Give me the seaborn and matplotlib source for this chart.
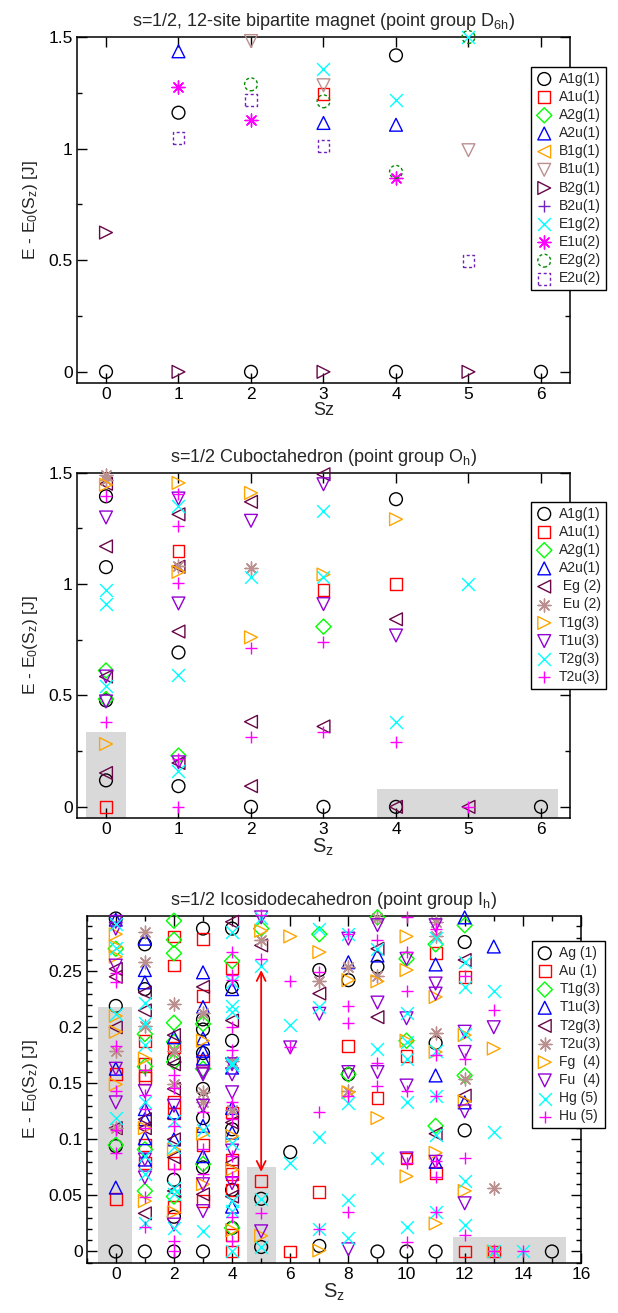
import numpy as np
import pandas as pd
import matplotlib
matplotlib.use("Agg")
import matplotlib.pyplot as plt
import seaborn as sns
from matplotlib.ticker import MultipleLocator, FuncFormatter
from matplotlib.patches import Rectangle

# ---------------- data: panel 1 (12-site bipartite, D6h) ----------------
top_A1g = {0: [0.0], 1: [1.161], 2: [0.0], 4: [0.0, 1.418], 6: [0.0]}
top_A1u = {3: [1.243]}
top_A2g = {}
top_A2u = {1: [1.436], 3: [1.115], 4: [1.107]}
top_B1g = {}
top_B1u = {2: [1.482], 3: [1.284], 5: [0.993]}
top_B2g = {0: [0.624], 1: [0.0], 3: [0.0], 5: [0.0]}
top_B2u = {}
top_E1g = {3: [1.358], 4: [1.219], 5: [1.5]}
top_E1u = {1: [1.276], 2: [1.127], 4: [0.869]}
top_E2g = {2: [1.288], 3: [1.212], 4: [0.896], 5: [1.5]}
top_E2u = {1: [1.048], 2: [1.219], 3: [1.013], 5: [0.497]}

# ---------------- data: panel 2 (cuboctahedron, Oh) ----------------
mid_A1g = {0: [0.119, 0.478, 1.076, 1.394], 1: [0.093, 0.693], 2: [0.0], 3: [0.0], 4: [0.0, 1.381], 6: [0.0]}
mid_A1u = {0: [0.0], 1: [1.148], 3: [0.973], 4: [1.0]}
mid_A2g = {0: [0.484, 0.612], 1: [0.23], 3: [0.809]}
mid_A2u = {}
mid_Eg = {0: [0.152, 0.585, 1.169, 1.45], 1: [0.197, 0.787, 1.078, 1.313], 2: [0.093, 0.382, 1.369],
          3: [0.361, 1.493], 4: [0.0, 0.842], 5: [0.0]}
mid_Eu = {0: [1.466, 1.488], 1: [1.081], 2: [1.073]}
mid_T1g = {0: [0.282, 1.446], 1: [1.055, 1.454], 2: [0.761, 1.409], 3: [1.043], 4: [1.291]}
mid_T1u = {0: [0.473, 0.585, 1.299], 1: [0.2, 0.913, 1.384], 2: [1.284], 3: [0.91, 1.448], 4: [0.769]}
mid_T2g = {0: [0.543, 0.91, 0.975], 1: [0.16, 0.593, 1.349], 2: [1.033], 3: [1.033, 1.328], 4: [0.382], 5: [1.0]}
mid_T2u = {0: [0.382, 1.397], 1: [0.0, 0.215, 1.006, 1.26, 1.406], 2: [0.313, 0.712], 3: [0.334, 0.74],
           4: [0.291], 5: [0.0]}

# ---------------- data: panel 3 (icosidodecahedron, Ih) ----------------
ico_Ag = {0: [0, 0.094, 0.219, 0.297], 1: [0, 0.234, 0.274], 2: [0, 0.031, 0.064, 0.172],
          3: [0, 0.075, 0.119, 0.145, 0.177, 0.198, 0.207, 0.288], 4: [0.021, 0.055, 0.109, 0.188, 0.236, 0.288],
          5: [0.004, 0.047], 6: [0.0886], 7: [0.005, 0.251], 8: [0.158, 0.242], 9: [0, 0.254], 10: [0],
          11: [0, 0.186], 12: [0.108, 0.276], 15: [0]}
ico_Au = {0: [0.047, 0.158], 1: [0.079, 0.095, 0.155, 0.157, 0.167, 0.188], 2: [0.040, 0.079, 0.123, 0.133, 0.182, 0.255, 0.281],
          3: [0.045, 0.095, 0.170, 0.228, 0.279], 4: [0, 0.015, 0.055, 0.069, 0.082, 0.124, 0.253], 5: [0.063],
          6: [0], 7: [0.053], 8: [0.183], 9: [0.137], 10: [0.083, 0.174], 11: [0.070, 0.266], 12: [0, 0.245], 13: [0]}
ico_T1g = {0: [0.095, 0.270], 1: [0.054, 0.091, 0.165, 0.194], 2: [0.049, 0.169, 0.187, 0.204, 0.266, 0.278, 0.295],
           3: [0.078, 0.163, 0.203], 4: [0.021, 0.259], 5: [0.288], 7: [0.283], 8: [0.158], 9: [0.298],
           10: [0.188, 0.261], 11: [0.112, 0.274], 12: [0.157, 0.291]}
ico_T1u = {0: [0.057, 0.163, 0.296], 1: [0.082, 0.101, 0.118, 0.127, 0.240, 0.251, 0.279], 2: [0.100, 0.124, 0.191],
           3: [0.085, 0.112, 0.172, 0.179, 0.190, 0.218, 0.249], 4: [0.040, 0.106, 0.128, 0.164, 0.234],
           8: [0.258], 9: [0.264], 11: [0.080, 0.157, 0.256], 12: [0.133, 0.298], 13: [0.272]}
ico_T2g = {0: [0.11, 0.2, 0.245, 0.252], 1: [0.034, 0.11, 0.118, 0.215, 0.231], 2: [0.054, 0.084, 0.100, 0.145, 0.167, 0.193],
           3: [0.051, 0.236], 4: [0.049, 0.079, 0.115, 0.206, 0.294], 5: [0.273], 7: [0.230], 9: [0.209, 0.270],
           11: [0.105], 12: [0.139, 0.260]}
ico_T2u = {0: [0.110, 0.179], 1: [0.201, 0.258, 0.285], 2: [0.149, 0.179, 0.221], 3: [0.133, 0.142, 0.213],
           4: [0.126, 0.170], 5: [0.278], 7: [0.241], 8: [0.143, 0.254], 9: [0.246, 0.297], 11: [0.195, 0.281, 0.294],
           12: [0.154], 13: [0, 0.057]}
ico_Fg = {0: [0.149, 0.196, 0.210, 0.263, 0.272, 0.283], 1: [0.045, 0.110, 0.172], 2: [0.035, 0.091],
          3: [0.060, 0.105, 0.188], 4: [0.019, 0.073, 0.103], 5: [0.014, 0.286], 6: [0.281], 7: [0.0009, 0.267],
          8: [0.142, 0.242], 9: [0.119, 0.241], 10: [0.067, 0.188, 0.251, 0.281], 11: [0.025, 0.088, 0.178, 0.227],
          12: [0.054, 0.134, 0.193], 13: [0, 0.181]}
ico_Fu = {0: [0.133, 0.163, 0.255, 0.288, 0.294], 1: [0.066, 0.082, 0.143], 2: [0.024, 0.130],
          3: [0.036, 0.060, 0.130, 0.158, 0.160], 4: [0.061, 0.090, 0.142, 0.158, 0.167], 5: [0.018, 0.298],
          6: [0.182], 7: [0.212], 8: [0.002, 0.160, 0.279], 9: [0.160, 0.222, 0.291], 10: [0.083, 0.148, 0.208, 0.261],
          11: [0.080, 0.230, 0.239, 0.291], 12: [0.043, 0.125, 0.178, 0.196], 13: [0.200]}
ico_Hg = {0: [0.119, 0.212, 0.271, 0.292], 1: [0.025, 0.069, 0.085, 0.133, 0.184, 0.204, 0.222],
          2: [0.021, 0.051, 0.057, 0.093, 0.116], 3: [0.018, 0.108],
          4: [0, 0.036, 0.045, 0.097, 0.166, 0.168, 0.214, 0.219, 0.240, 0.285], 5: [0.004, 0.047, 0.255, 0.297],
          6: [0.0785, 0.202], 7: [0.020, 0.102, 0.218, 0.288], 8: [0.012, 0.046, 0.132, 0.283], 9: [0.083, 0.181, 0.270],
          10: [0.022, 0.133, 0.172, 0.187, 0.213], 11: [0.035, 0.104, 0.139, 0.179, 0.280],
          12: [0.024, 0.063, 0.194, 0.236, 0.258], 13: [0, 0.107, 0.232], 14: [0]}
ico_Hu = {0: [0.088, 0.108, 0.143, 0.183, 0.240, 0.248], 1: [0.022, 0.049, 0.110, 0.127, 0.140, 0.162],
          2: [0, 0.009, 0.074, 0.112, 0.146, 0.157], 3: [0.069, 0.091, 0.124],
          4: [0.009, 0.031, 0.066, 0.085, 0.118, 0.133, 0.180, 0.200, 0.242, 0.247, 0.267], 5: [0.034, 0.261, 0.300],
          6: [0.182, 0.241], 7: [0.020, 0.124, 0.249], 8: [0.035, 0.139, 0.204, 0.219, 0.283], 9: [0.148, 0.168, 0.278],
          10: [0.0081, 0.079, 0.143, 0.232, 0.267, 0.298], 11: [0.035, 0.066, 0.081, 0.139, 0.175, 0.288],
          12: [0.015, 0.083, 0.172, 0.246], 13: [0, 0.215], 14: [0]}

top_labels = ["A1g(1)", "A1u(1)", "A2g(1)", "A2u(1)", "B1g(1)", "B1u(1)", "B2g(1)", "B2u(1)",
              "E1g(2)", "E1u(2)", "E2g(2)", "E2u(2)"]
mid_labels = ["A1g(1)", "A1u(1)", "A2g(1)", "A2u(1)", " Eg (2)", " Eu (2)", "T1g(3)", "T1u(3)", "T2g(3)", "T2u(3)"]
ico_labels = ["Ag (1)", "Au (1)", "T1g(3)", "T1u(3)", "T2g(3)", "T2u(3)", "Fg  (4)", "Fu  (4)", "Hg (5)", "Hu (5)"]

# ---------------- styles (xmgrace palette) ----------------
BLACK, RED, GREEN, BLUE = "#000000", "#ff0000", "#00ff00", "#0000ff"
BROWN, VIOLET, CYAN, MAGENTA = "#bc8f8f", "#9400d3", "#00ffff", "#ff00ff"
ORANGE, INDIGO, MAROON, GREEN4 = "#ffa500", "#7221bc", "#670748", "#008b00"
STAR = (8, 2, 0)
# (marker, color, linestyle)
top_styles = [("o", BLACK, "-"), ("s", RED, "-"), ("D", GREEN, "-"), ("^", BLUE, "-"),
              ("<", ORANGE, "-"), ("v", BROWN, "-"), (">", MAROON, "-"), ("+", INDIGO, "-"),
              ("x", CYAN, "-"), (STAR, MAGENTA, "-"), ("o", GREEN4, (0, (2.2, 1.8))), ("s", INDIGO, (0, (2.2, 1.8)))]
mid_styles = [("o", BLACK, "-"), ("s", RED, "-"), ("D", GREEN, "-"), ("^", BLUE, "-"),
              ("<", MAROON, "-"), (STAR, BROWN, "-"), (">", ORANGE, "-"), ("v", VIOLET, "-"),
              ("x", CYAN, "-"), ("+", MAGENTA, "-")]
ico_styles = mid_styles

top_sets = [top_A1g, top_A1u, top_A2g, top_A2u, top_B1g, top_B1u, top_B2g, top_B2u, top_E1g, top_E1u, top_E2g, top_E2u]
mid_sets = [mid_A1g, mid_A1u, mid_A2g, mid_A2u, mid_Eg, mid_Eu, mid_T1g, mid_T1u, mid_T2g, mid_T2u]
ico_sets = [ico_Ag, ico_Au, ico_T1g, ico_T1u, ico_T2g, ico_T2u, ico_Fg, ico_Fu, ico_Hg, ico_Hu]

# ---------------- figure ----------------
sns.set_theme(style="white")
plt.rcParams['font.family'] = ['Liberation Sans', 'DejaVu Sans']
plt.rcParams['mathtext.default'] = 'regular'
plt.rcParams['axes.edgecolor'] = 'black'

fig = plt.figure(figsize=(6.18, 13.13), dpi=100)
S = 85
LW = 1.0


def to_frame(d):
    rows = [(sz, e) for sz, es in d.items() for e in es]
    return pd.DataFrame(rows, columns=["Sz", "E"])


def marker_size(m, ms):
    if m == "D":
        return ms * 0.7
    if m == "s":
        return ms * 0.85
    return ms


def draw_panel(ax, sets, styles, labels, legend_anchor, ms):
    for d, (m, c, ls), lab in zip(sets, styles, labels):
        df = to_frame(d)
        filled = matplotlib.markers.MarkerStyle(m).is_filled()
        kw = dict(marker=m, s=marker_size(m, ms), linewidth=LW, linestyle=ls,
                  clip_on=False, legend=False, ax=ax, zorder=3)
        if filled:
            kw.update(color=c, facecolor="none", edgecolor=c)
        else:
            kw.update(color=c)
        if len(df):
            sns.scatterplot(data=df, x="Sz", y="E", **kw)
    # legend proxies
    handles = []
    for (m, c, ls), lab in zip(styles, labels):
        filled = matplotlib.markers.MarkerStyle(m).is_filled()
        sz = marker_size(m, ms)
        if filled:
            h = ax.scatter([], [], marker=m, s=sz, facecolors="none", edgecolors=c, linewidths=LW,
                           linestyle=ls, label=lab)
        else:
            h = ax.scatter([], [], marker=m, s=sz, color=c, linewidths=LW, label=lab)
        handles.append(h)
    leg = ax.legend(handles=handles, loc="upper left", bbox_to_anchor=legend_anchor, frameon=True,
                    fancybox=False, framealpha=1, edgecolor="black", fontsize=10, borderpad=0.35,
                    labelspacing=0.3, handletextpad=0.45, handlelength=1.2, borderaxespad=0,
                    scatterpoints=1)
    leg.get_frame().set_linewidth(1.0)
    leg.set_zorder(5)


def style_axes(ax):
    for sp in ax.spines.values():
        sp.set_color("black")
        sp.set_linewidth(1.1)
    ax.tick_params(which="major", direction="in", top=True, right=True, bottom=True, left=True,
                   length=7, width=1, labelsize=12.5, pad=3, colors="black")
    ax.tick_params(which="minor", direction="in", top=True, right=True, bottom=True, left=True,
                   length=3.5, width=1, colors="black")
    ax.yaxis.set_major_formatter(FuncFormatter(lambda v, p: "%g" % round(v, 4)))
    ax.xaxis.set_major_formatter(FuncFormatter(lambda v, p: "%g" % v))


ylab = "E - E$_0$(S$_z$) [J]"

# Panel 1
ax1 = fig.add_axes([0.1246, 0.7083, 0.7977, 0.2635])
draw_panel(ax1, top_sets, top_styles, top_labels, (0.921, 0.914), S)
ax1.set_xlim(-0.4, 6.4)
ax1.set_ylim(-0.05, 1.5)
ax1.xaxis.set_major_locator(MultipleLocator(1))
ax1.yaxis.set_major_locator(MultipleLocator(0.5))
ax1.yaxis.set_minor_locator(MultipleLocator(0.25))
style_axes(ax1)
ax1.set_title("s=1/2, 12-site bipartite magnet (point group D$_{6h}$)", fontsize=13, pad=8)
ax1.set_xlabel("Sz", fontsize=13, labelpad=0)
ax1.set_ylabel(ylab, fontsize=12.5, labelpad=6)

# Panel 2
ax2 = fig.add_axes([0.1246, 0.3770, 0.7977, 0.2630])
ax2.add_patch(Rectangle((-0.27, -0.05), 0.545, 0.387, facecolor="#d9d9d9", edgecolor="none", zorder=0.5))
ax2.add_patch(Rectangle((3.74, -0.05), 2.5, 0.132, facecolor="#d9d9d9", edgecolor="none", zorder=0.5))
draw_panel(ax2, mid_sets, mid_styles, mid_labels, (0.921, 0.916), S)
ax2.set_xlim(-0.4, 6.4)
ax2.set_ylim(-0.05, 1.5)
ax2.xaxis.set_major_locator(MultipleLocator(1))
ax2.yaxis.set_major_locator(MultipleLocator(0.5))
ax2.yaxis.set_minor_locator(MultipleLocator(0.25))
style_axes(ax2)
ax2.set_title("s=1/2 Cuboctahedron (point group O$_h$)", fontsize=13, pad=8)
ax2.set_xlabel("S$_z$", fontsize=14.5, labelpad=0)
ax2.set_ylabel(ylab, fontsize=12.5, labelpad=6)

# Panel 3
ax3 = fig.add_axes([0.1403, 0.0383, 0.7998, 0.2643])
ax3.add_patch(Rectangle((-0.62, -0.01), 1.17, 0.228, facecolor="#d9d9d9", edgecolor="none", zorder=0.5))
ax3.add_patch(Rectangle((4.5, -0.01), 1.02, 0.085, facecolor="#d9d9d9", edgecolor="none", zorder=0.5))
ax3.add_patch(Rectangle((11.6, -0.01), 3.9, 0.0225, facecolor="#d9d9d9", edgecolor="none", zorder=0.5))
draw_panel(ax3, ico_sets, ico_styles, ico_labels, (0.900, 0.927), S)
ax3.annotate("", xy=(5, 0.071), xytext=(5, 0.251),
             arrowprops=dict(arrowstyle="<->", color="red", lw=1.3, mutation_scale=16, shrinkA=0, shrinkB=0),
             zorder=4)
ax3.set_xlim(-1, 16)
ax3.set_ylim(-0.01, 0.2995)
ax3.xaxis.set_major_locator(MultipleLocator(2))
ax3.xaxis.set_minor_locator(MultipleLocator(1))
ax3.yaxis.set_major_locator(MultipleLocator(0.05))
ax3.yaxis.set_minor_locator(MultipleLocator(0.01))
style_axes(ax3)
ax3.set_title("s=1/2 Icosidodecahedron (point group I$_h$)", fontsize=13, pad=8)
ax3.set_xlabel("S$_z$", fontsize=14.5, labelpad=0)
ax3.set_ylabel(ylab, fontsize=12.5, labelpad=6)

fig.savefig("out.png", dpi=100)
